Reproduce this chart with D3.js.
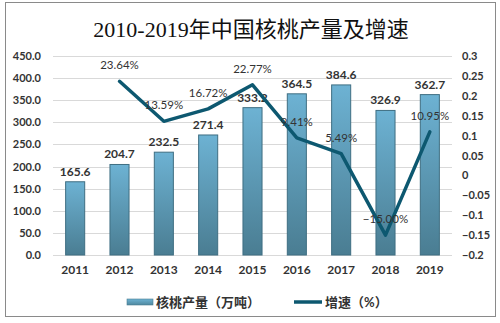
<!DOCTYPE html>
<html>
<head>
<meta charset="utf-8">
<script src="https://cdn.jsdelivr.net/npm/d3@7"></script>
<style>
  html, body { margin: 0; padding: 0; background: #fff; }
  svg { display: block; }
</style>
</head>
<body>
<svg id="chart" width="500" height="323"></svg>
<script>
// Walnut output (10k tonnes) and year-on-year growth rate
const years = ["2011", "2012", "2013", "2014", "2015", "2016", "2017", "2018", "2019"];
const output = [165.6, 204.7, 232.5, 271.4, 333.2, 364.5, 384.6, 326.9, 362.7];
const growthYears = ["2012", "2013", "2014", "2015", "2016", "2017", "2018", "2019"];
const growth = [0.2364, 0.1359, 0.1672, 0.2277, 0.0941, 0.0549, -0.15, 0.1095];
const leftTicks = [0, 50, 100, 150, 200, 250, 300, 350, 400, 450];
const rightTicks = [-0.2, -0.15, -0.1, -0.05, 0, 0.05, 0.1, 0.15, 0.2, 0.25, 0.3];

const title = "2010-2019年中国核桃产量及增速";
const barName = "核桃产量（万吨）";
const lineName = "增速（%）";

const svg = d3.select("#chart");
const font = "Lato, 'Noto Sans CJK SC', sans-serif";
const textColor = "#333";

const plot = { left: 53, right: 452, top: 56, bottom: 255 };

// Outer frame
svg.append("rect")
  .attr("x", 5.5).attr("y", 2.5)
  .attr("width", 490).attr("height", 314)
  .attr("fill", "#fff").attr("stroke", "#8a8a8a").attr("stroke-width", 1);

// Title
svg.append("text")
  .attr("x", 251).attr("y", 37)
  .attr("text-anchor", "middle")
  .attr("font-family", "'Liberation Serif', 'Noto Sans CJK SC', serif")
  .attr("font-size", 22)
  .attr("fill", "#111")
  .text(title);

const x = d3.scaleBand().domain(years).range([plot.left, plot.right]).paddingInner(0.57).paddingOuter(0.285);
const yL = d3.scaleLinear().domain([0, 450]).range([plot.bottom, plot.top]);
const yR = d3.scaleLinear().domain([-0.2, 0.3]).range([plot.bottom, plot.top]);

// Gridlines
svg.append("g")
  .selectAll("line")
  .data(leftTicks)
  .join("line")
  .attr("x1", plot.left).attr("x2", plot.right)
  .attr("y1", d => Math.round(yL(d)) + 0.5).attr("y2", d => Math.round(yL(d)) + 0.5)
  .attr("stroke", "#d9d9d9").attr("stroke-width", 1);

// Left axis
const leftAxis = svg.append("g")
  .attr("transform", `translate(${plot.left - 12},0)`)
  .call(d3.axisLeft(yL).tickValues(leftTicks).tickFormat(d3.format(".1f")).tickSize(0).tickPadding(0));
leftAxis.select(".domain").remove();
leftAxis.selectAll("text")
  .attr("font-family", font).attr("font-size", 11).attr("font-weight", "bold").attr("fill", textColor);

// Right axis
const rightAxis = svg.append("g")
  .attr("transform", `translate(${plot.right + 10},0)`)
  .call(d3.axisRight(yR).tickValues(rightTicks).tickFormat(d => d3.format("")(+d.toFixed(2))).tickSize(0).tickPadding(0));
rightAxis.select(".domain").remove();
rightAxis.selectAll("text")
  .attr("font-family", font).attr("font-size", 11).attr("font-weight", "bold").attr("fill", textColor);

// Bottom axis
const bottomAxis = svg.append("g")
  .attr("transform", `translate(0,${plot.bottom + 10})`)
  .call(d3.axisBottom(x).tickSize(0).tickPadding(0));
bottomAxis.select(".domain").remove();
bottomAxis.selectAll("text")
  .attr("dy", "0.75em")
  .attr("font-family", font).attr("font-size", 12).attr("font-weight", "bold").attr("fill", textColor);

// Bar gradient
const defs = svg.append("defs");
const grad = defs.append("linearGradient").attr("id", "barGrad").attr("x1", 0).attr("y1", 0).attr("x2", 0).attr("y2", 1);
grad.append("stop").attr("offset", "0%").attr("stop-color", "#6db2d3");
grad.append("stop").attr("offset", "100%").attr("stop-color", "#4a7d92");
const hgrad = defs.append("linearGradient").attr("id", "legGrad").attr("x1", 0).attr("y1", 0).attr("x2", 0).attr("y2", 1);
hgrad.append("stop").attr("offset", "0%").attr("stop-color", "#6db2d3");
hgrad.append("stop").attr("offset", "100%").attr("stop-color", "#4f889f");

// Bars
svg.append("g")
  .selectAll("rect")
  .data(years)
  .join("rect")
  .attr("x", d => x(d))
  .attr("y", (d, i) => yL(output[i]))
  .attr("width", x.bandwidth())
  .attr("height", (d, i) => yL(0) - yL(output[i]))
  .attr("fill", "url(#barGrad)")
  .attr("stroke", "#3f6e82").attr("stroke-width", 1);

// Bar value labels
svg.append("g")
  .selectAll("text")
  .data(years)
  .join("text")
  .attr("x", d => x(d) + x.bandwidth() / 2)
  .attr("y", (d, i) => yL(output[i]) - 6)
  .attr("text-anchor", "middle")
  .attr("font-family", font).attr("font-size", 12).attr("font-weight", "bold").attr("fill", textColor)
  .text((d, i) => output[i].toFixed(1));

// Growth line
const line = d3.line()
  .x((d, i) => x(growthYears[i]) + x.bandwidth() / 2)
  .y(d => yR(d));
svg.append("path")
  .datum(growth)
  .attr("d", line)
  .attr("fill", "none")
  .attr("stroke", "#0d5870").attr("stroke-width", 3.5)
  .attr("stroke-linejoin", "round").attr("stroke-linecap", "round");

// Growth labels
svg.append("g")
  .selectAll("text")
  .data(growth)
  .join("text")
  .attr("x", (d, i) => x(growthYears[i]) + x.bandwidth() / 2)
  .attr("y", d => yR(d) - 12)
  .attr("text-anchor", "middle")
  .attr("font-family", font).attr("font-size", 11.5).attr("fill", textColor)
  .text(d => d3.format(".2%")(d));

// Legend
const legend = svg.append("g");
legend.append("rect")
  .attr("x", 127).attr("y", 299).attr("width", 26).attr("height", 6)
  .attr("fill", "url(#legGrad)").attr("stroke", "#4a7d92").attr("stroke-width", 0.6);
legend.append("text")
  .attr("x", 156).attr("y", 307)
  .attr("font-family", font).attr("font-size", 13).attr("font-weight", "bold").attr("fill", textColor)
  .text(barName);
legend.append("line")
  .attr("x1", 294).attr("x2", 322).attr("y1", 302).attr("y2", 302)
  .attr("stroke", "#0d5870").attr("stroke-width", 3.5);
legend.append("text")
  .attr("x", 325).attr("y", 307)
  .attr("font-family", font).attr("font-size", 13).attr("font-weight", "bold").attr("fill", textColor)
  .text(lineName);
</script>
</body>
</html>
